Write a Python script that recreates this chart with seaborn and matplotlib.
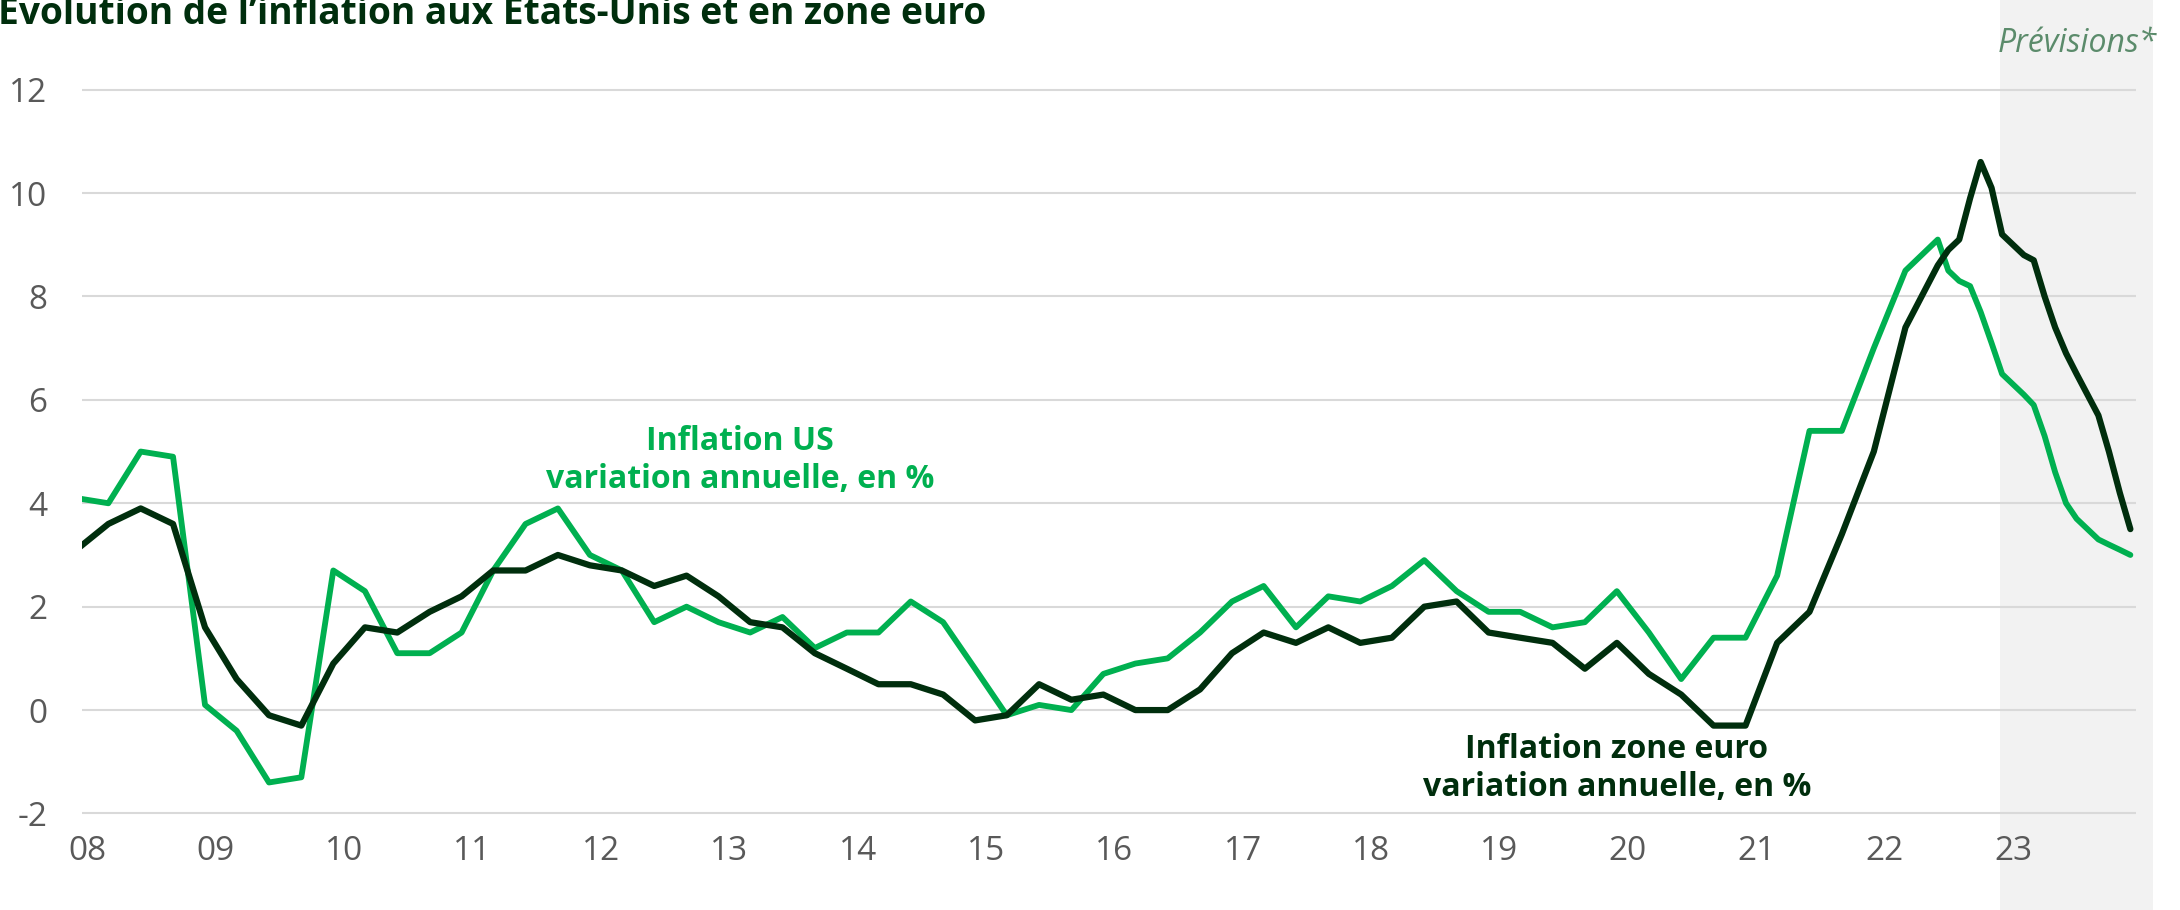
import matplotlib
matplotlib.use("Agg")
import numpy as np
import pandas as pd
import seaborn as sns
import matplotlib.pyplot as plt
import matplotlib.dates as mdates
from matplotlib.ticker import FixedLocator, FixedFormatter

# ---------------- data ----------------
# quarterly observations (Dec 2007 ... Mar 2022), then monthly (Jun 2022 ... Dec 2023)
quarter_dates = pd.date_range("2007-12-01", "2022-03-01", freq="QS-DEC")
month_dates = pd.date_range("2022-06-01", "2023-12-01", freq="MS")
dates = list(quarter_dates) + list(month_dates)

us_quarterly = [4.1,
                4.0, 5.0, 4.9, 0.1,
                -0.4, -1.4, -1.3, 2.7,
                2.3, 1.1, 1.1, 1.5,
                2.7, 3.6, 3.9, 3.0,
                2.7, 1.7, 2.0, 1.7,
                1.5, 1.8, 1.2, 1.5,
                1.5, 2.1, 1.7, 0.8,
                -0.1, 0.1, 0.0, 0.7,
                0.9, 1.0, 1.5, 2.1,
                2.4, 1.6, 2.2, 2.1,
                2.4, 2.9, 2.3, 1.9,
                1.9, 1.6, 1.7, 2.3,
                1.5, 0.6, 1.4, 1.4,
                2.6, 5.4, 5.4, 7.0,
                8.5]
us_monthly = [9.1, 8.5, 8.3, 8.2, 7.7, 7.1, 6.5,
              6.3, 6.1, 5.9, 5.3, 4.6, 4.0, 3.7, 3.5, 3.3, 3.2, 3.1, 3.0]

ez_quarterly = [3.1,
                3.6, 3.9, 3.6, 1.6,
                0.6, -0.1, -0.3, 0.9,
                1.6, 1.5, 1.9, 2.2,
                2.7, 2.7, 3.0, 2.8,
                2.7, 2.4, 2.6, 2.2,
                1.7, 1.6, 1.1, 0.8,
                0.5, 0.5, 0.3, -0.2,
                -0.1, 0.5, 0.2, 0.3,
                0.0, 0.0, 0.4, 1.1,
                1.5, 1.3, 1.6, 1.3,
                1.4, 2.0, 2.1, 1.5,
                1.4, 1.3, 0.8, 1.3,
                0.7, 0.3, -0.3, -0.3,
                1.3, 1.9, 3.4, 5.0,
                7.4]
ez_monthly = [8.6, 8.9, 9.1, 9.9, 10.6, 10.1, 9.2,
              9.0, 8.8, 8.7, 8.0, 7.4, 6.9, 6.5, 6.1, 5.7, 5.0, 4.2, 3.5]

us_values = us_quarterly + us_monthly
ez_values = ez_quarterly + ez_monthly

y_ticks = [-2, 0, 2, 4, 6, 8, 10, 12]
y_labels = ["-2", "0", "2", "4", "6", "8", "10", "12"]

title = "Évolution de l’inflation aux États-Unis et en zone euro"
us_label = ["Inflation US", "variation annuelle, en %"]
ez_label = ["Inflation zone euro", "variation annuelle, en %"]
forecast_label = "Prévisions*"
forecast_start = pd.Timestamp("2022-11-25")
forecast_end = pd.Timestamp("2024-02-03")

df_us = pd.DataFrame({"date": dates, "value": us_values})
df_ez = pd.DataFrame({"date": dates, "value": ez_values})

# ---------------- style ----------------
GREEN = "#00b050"
DARK = "#002e0d"
GRID = "#d9d9d9"
TICK = "#595959"
SHADE = "#f2f2f2"
FORECAST = "#5b8b6b"

sns.set_theme(style="white")
plt.rcParams["font.family"] = ["Open Sans", "DejaVu Sans"]
plt.rcParams["axes.unicode_minus"] = False

W, H = 2180, 910
fig = plt.figure(figsize=(W / 100, H / 100), dpi=100)
left_px, right_px, top_px, bottom_px = 82, 2136, 58.6, 829
ax = fig.add_axes([left_px / W, (H - bottom_px) / H,
                   (right_px - left_px) / W, (bottom_px - top_px) / H])

# forecast shading (full figure height)
ax.axvspan(forecast_start, forecast_end, ymin=-0.2, ymax=1.2,
           color=SHADE, lw=0, zorder=0, clip_on=False)

sns.lineplot(data=df_us, x="date", y="value", ax=ax, color=GREEN,
             linewidth=4.2, zorder=3, legend=False)
sns.lineplot(data=df_ez, x="date", y="value", ax=ax, color=DARK,
             linewidth=4.5, zorder=4, legend=False)

ax.set_xlim(pd.Timestamp("2007-12-17"), pd.Timestamp("2023-12-17"))
ax.set_ylim(-2.3, 12.6)

ax.yaxis.set_major_locator(FixedLocator(y_ticks))
ax.yaxis.set_major_formatter(FixedFormatter(y_labels))
ax.xaxis.set_major_locator(mdates.YearLocator())
ax.xaxis.set_major_formatter(mdates.DateFormatter("%y"))

ax.set_axisbelow(True)
ax.grid(axis="y", color=GRID, linewidth=1.5, zorder=1)
ax.grid(axis="x", visible=False)
for s in ax.spines.values():
    s.set_visible(False)
ax.patch.set_alpha(0)
ax.tick_params(axis="y", length=0, pad=25, labelsize=24, labelcolor=TICK)
ax.tick_params(axis="x", length=0, pad=4, labelsize=24, labelcolor=TICK)
ax.set_xlabel("")
ax.set_ylabel("")

# series annotations
us_x = pd.Timestamp("2013-02-01")
ax.text(us_x, 5.03, us_label[0], ha="center", va="baseline", fontsize=23,
        fontweight="bold", color=GREEN, zorder=5)
ax.text(us_x, 4.29, us_label[1], ha="center", va="baseline", fontsize=23,
        fontweight="bold", color=GREEN, zorder=5)
ez_x = pd.Timestamp("2019-12-01")
ax.text(ez_x, -0.93, ez_label[0], ha="center", va="baseline", fontsize=23,
        fontweight="bold", color=DARK, zorder=5)
ax.text(ez_x, -1.66, ez_label[1], ha="center", va="baseline", fontsize=23,
        fontweight="bold", color=DARK, zorder=5)

# title and forecast label
fig.text(-0.001, 1 - 24 / H, title, ha="left", va="baseline", fontsize=26.7,
         fontweight="bold", color=DARK)
fig.text(2157 / W, 1 - 52 / H, forecast_label, ha="right", va="baseline",
         fontsize=23, fontstyle="italic", color=FORECAST)

fig.savefig("out.png", dpi=100)
